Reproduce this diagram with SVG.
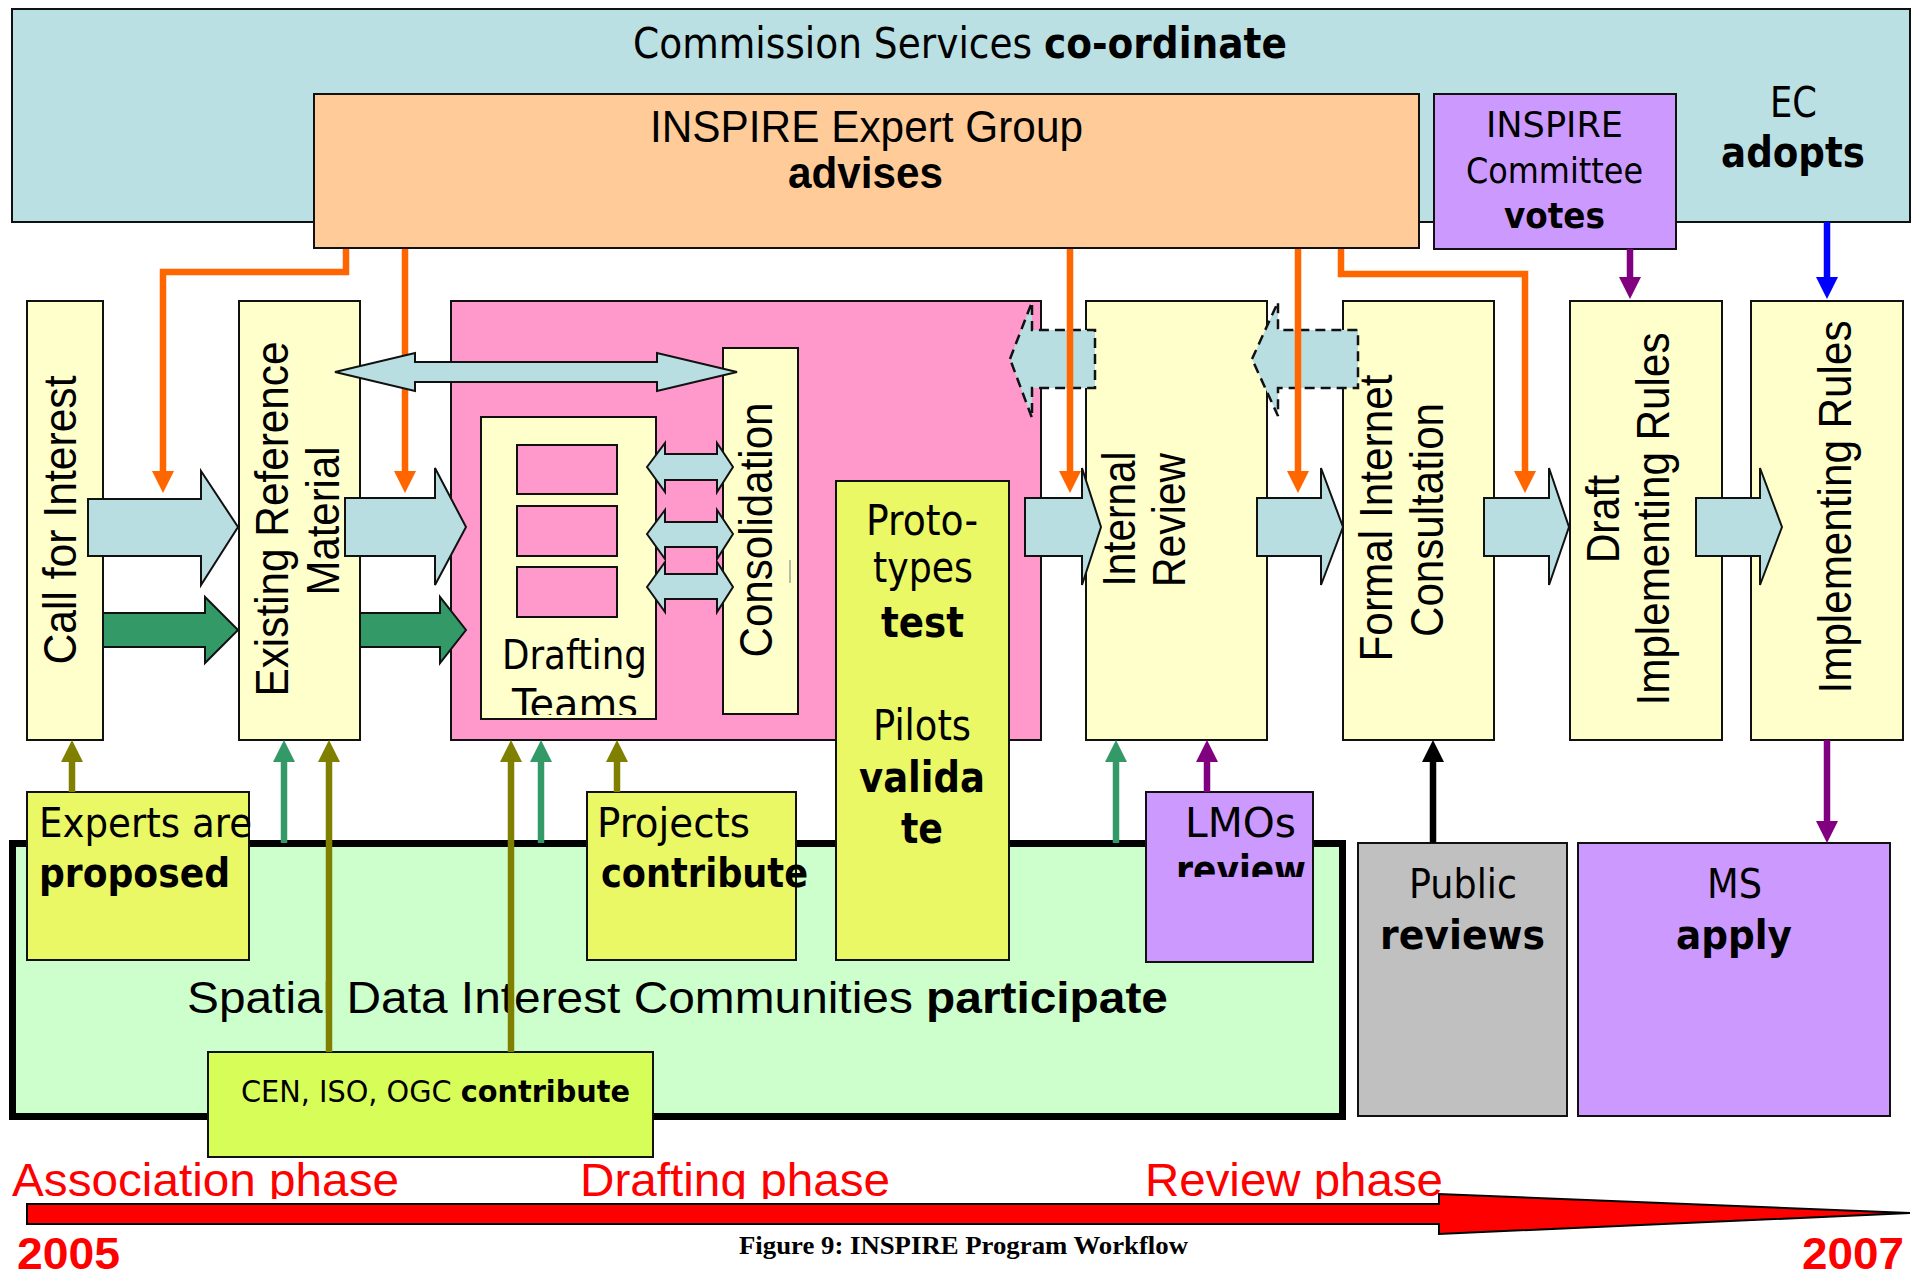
<svg xmlns="http://www.w3.org/2000/svg" width="1916" height="1277" viewBox="0 0 1916 1277">
<style>
.bx{stroke:#111;stroke-width:2}
.t{font-family:"DejaVu Sans",Verdana,sans-serif;fill:#000}
.a{font-family:"Liberation Sans",Arial,sans-serif;fill:#000}
.b{font-weight:bold}
.r{fill:#ff0000}
.ln{fill:none;stroke-width:6.5}
.blk{fill:#b8dee2;stroke:#111;stroke-width:2}
.grn{fill:#339966;stroke:#111;stroke-width:2}
.dsh{fill:#b8dee2;stroke:#111;stroke-width:2.5;stroke-dasharray:10 6}
</style>
<defs>
<marker id="hO" markerUnits="userSpaceOnUse" markerWidth="22" markerHeight="22" viewBox="0 0 22 22" refX="0" refY="11" orient="auto"><path d="M0,0L22,11L0,22z" fill="#ff6600"/></marker>
<marker id="hP" markerUnits="userSpaceOnUse" markerWidth="22" markerHeight="22" viewBox="0 0 22 22" refX="0" refY="11" orient="auto"><path d="M0,0L22,11L0,22z" fill="#800080"/></marker>
<marker id="hB" markerUnits="userSpaceOnUse" markerWidth="22" markerHeight="22" viewBox="0 0 22 22" refX="0" refY="11" orient="auto"><path d="M0,0L22,11L0,22z" fill="#0000ff"/></marker>
<marker id="hL" markerUnits="userSpaceOnUse" markerWidth="22" markerHeight="22" viewBox="0 0 22 22" refX="0" refY="11" orient="auto"><path d="M0,0L22,11L0,22z" fill="#808000"/></marker>
<marker id="hG" markerUnits="userSpaceOnUse" markerWidth="22" markerHeight="22" viewBox="0 0 22 22" refX="0" refY="11" orient="auto"><path d="M0,0L22,11L0,22z" fill="#339966"/></marker>
<marker id="hK" markerUnits="userSpaceOnUse" markerWidth="22" markerHeight="22" viewBox="0 0 22 22" refX="0" refY="11" orient="auto"><path d="M0,0L22,11L0,22z" fill="#000"/></marker>
<clipPath id="cDT"><rect x="481" y="417" width="175" height="298"/></clipPath>
<clipPath id="cLM"><rect x="1146" y="792" width="167" height="85"/></clipPath>
<clipPath id="cPh"><rect x="0" y="1140" width="1916" height="59"/></clipPath>
</defs>
<rect width="1916" height="1277" fill="#fff"/>

<g id="commission-services">
<rect class="bx" x="12" y="9" width="1898" height="213" fill="#bae0e3"/>
<text class="t" x="633" y="58" font-size="42" textLength="654" lengthAdjust="spacingAndGlyphs">Commission Services <tspan class="b">co-ordinate</tspan></text>
</g>
<g id="ec-adopts">
<text class="t" x="1770" y="117" font-size="42" textLength="47" lengthAdjust="spacingAndGlyphs">EC</text>
<text class="t b" x="1721" y="167" font-size="42" textLength="144" lengthAdjust="spacingAndGlyphs">adopts</text>
</g>
<g id="expert-group">
<rect class="bx" x="314" y="94" width="1105" height="154" fill="#ffcc99"/>
<text class="a" x="650" y="142" font-size="44" textLength="433" lengthAdjust="spacingAndGlyphs">INSPIRE Expert Group</text>
<text class="a b" x="788" y="188" font-size="44" textLength="155" lengthAdjust="spacingAndGlyphs">advises</text>
</g>
<g id="inspire-committee">
<rect class="bx" x="1434" y="94" width="242" height="155" fill="#cc99ff"/>
<text class="t" x="1486" y="137" font-size="36" textLength="137" lengthAdjust="spacingAndGlyphs">INSPIRE</text>
<text class="t" x="1466" y="183" font-size="36" textLength="177" lengthAdjust="spacingAndGlyphs">Committee</text>
<text class="t b" x="1504" y="228" font-size="36" textLength="101" lengthAdjust="spacingAndGlyphs">votes</text>
</g>

<g id="call-for-interest">
<rect class="bx" x="27" y="301" width="76" height="439" fill="#ffffcc"/>
<text class="a" transform="translate(76,664.5) rotate(-90)" font-size="46" textLength="289" lengthAdjust="spacingAndGlyphs">Call for Interest</text>
</g>
<g id="existing-reference">
<rect class="bx" x="239" y="301" width="121" height="439" fill="#ffffcc"/>
<text class="a" transform="translate(288,696.5) rotate(-90)" font-size="46" textLength="355" lengthAdjust="spacingAndGlyphs">Existing Reference</text>
<text class="a" transform="translate(339,595.5) rotate(-90)" font-size="46" textLength="149" lengthAdjust="spacingAndGlyphs">Material</text>
</g>
<g id="drafting-area">
<rect class="bx" x="451" y="301" width="590" height="439" fill="#ff99cc"/>
</g>
<g id="drafting-teams">
<rect class="bx" x="481" y="417" width="175" height="302" fill="#ffffcc"/>
<rect class="bx" x="517" y="445" width="100" height="49" fill="#ff99cc"/>
<rect class="bx" x="517" y="506" width="100" height="50" fill="#ff99cc"/>
<rect class="bx" x="517" y="567" width="100" height="50" fill="#ff99cc"/>
<g clip-path="url(#cDT)">
<text class="t" x="502" y="669" font-size="40" textLength="145" lengthAdjust="spacingAndGlyphs">Drafting</text>
<text class="t" x="512" y="718" font-size="40" textLength="126" lengthAdjust="spacingAndGlyphs">Teams</text>
</g>
</g>
<g id="consolidation">
<rect class="bx" x="723" y="348" width="75" height="366" fill="#ffffcc"/>
<text class="a" transform="translate(772,657.5) rotate(-90)" font-size="46" textLength="255" lengthAdjust="spacingAndGlyphs">Consolidation</text>
<line x1="790" y1="560" x2="790" y2="583" stroke="#777" stroke-width="1"/>
</g>
<g id="internal-review">
<rect class="bx" x="1086" y="301" width="181" height="439" fill="#ffffcc"/>
<text class="a" transform="translate(1135,586.5) rotate(-90)" font-size="46" textLength="135" lengthAdjust="spacingAndGlyphs">Internal</text>
<text class="a" transform="translate(1185,587) rotate(-90)" font-size="46" textLength="134" lengthAdjust="spacingAndGlyphs">Review</text>
</g>
<g id="formal-consultation">
<rect class="bx" x="1343" y="301" width="151" height="439" fill="#ffffcc"/>
<text class="a" transform="translate(1392,661.5) rotate(-90)" font-size="46" textLength="287" lengthAdjust="spacingAndGlyphs">Formal Internet</text>
<text class="a" transform="translate(1443,637) rotate(-90)" font-size="46" textLength="234" lengthAdjust="spacingAndGlyphs">Consultation</text>
</g>
<g id="draft-rules">
<rect class="bx" x="1570" y="301" width="152" height="439" fill="#ffffcc"/>
<text class="a" transform="translate(1619,563) rotate(-90)" font-size="46" textLength="88" lengthAdjust="spacingAndGlyphs">Draft</text>
<text class="a" transform="translate(1669,705.5) rotate(-90)" font-size="46" textLength="373" lengthAdjust="spacingAndGlyphs">Implementing Rules</text>
</g>
<g id="implementing-rules">
<rect class="bx" x="1751" y="301" width="152" height="439" fill="#ffffcc"/>
<text class="a" transform="translate(1851,693.5) rotate(-90)" font-size="46" textLength="373" lengthAdjust="spacingAndGlyphs">Implementing Rules</text>
</g>

<g id="sdic">
<rect x="12.5" y="843.5" width="1330" height="273" fill="#ccffcc" stroke="#000" stroke-width="7"/>
<text class="a" x="187" y="1013" font-size="45" textLength="981" lengthAdjust="spacingAndGlyphs">Spatial Data Interest Communities <tspan class="b">participate</tspan></text>
</g>
<g id="prototypes">
<rect class="bx" x="836" y="481" width="173" height="479" fill="#eaf866"/>
<text class="t" x="866" y="535" font-size="42" textLength="112" lengthAdjust="spacingAndGlyphs">Proto-</text>
<text class="t" x="873" y="582" font-size="42" textLength="100" lengthAdjust="spacingAndGlyphs">types</text>
<text class="t b" x="881" y="637" font-size="42" textLength="83" lengthAdjust="spacingAndGlyphs">test</text>
<text class="t" x="873" y="740" font-size="42" textLength="98" lengthAdjust="spacingAndGlyphs">Pilots</text>
<text class="t b" x="859" y="792" font-size="42" textLength="126" lengthAdjust="spacingAndGlyphs">valida</text>
<text class="t b" x="901" y="843" font-size="42" textLength="42" lengthAdjust="spacingAndGlyphs">te</text>
</g>
<g id="experts">
<rect class="bx" x="27" y="792" width="222" height="168" fill="#eaf866"/>
<text class="t" x="39" y="837" font-size="40" textLength="213" lengthAdjust="spacingAndGlyphs">Experts are</text>
<text class="t b" x="39" y="887" font-size="40" textLength="191" lengthAdjust="spacingAndGlyphs">proposed</text>
</g>
<g id="projects">
<rect class="bx" x="587" y="792" width="209" height="168" fill="#eaf866"/>
<text class="t" x="597" y="837" font-size="40" textLength="153" lengthAdjust="spacingAndGlyphs">Projects</text>
<text class="t b" x="601" y="887" font-size="40" textLength="207" lengthAdjust="spacingAndGlyphs">contribute</text>
</g>
<g id="lmos">
<rect class="bx" x="1146" y="792" width="167" height="170" fill="#cc99ff"/>
<text class="t" x="1185" y="837" font-size="40" textLength="111" lengthAdjust="spacingAndGlyphs">LMOs</text>
<g clip-path="url(#cLM)"><text class="t b" x="1176" y="884" font-size="40" textLength="130" lengthAdjust="spacingAndGlyphs">review</text></g>
</g>
<g id="cen-iso-ogc">
<rect class="bx" x="208" y="1052" width="445" height="105" fill="#d7fd58"/>
<text class="t" x="241" y="1102" font-size="30" textLength="389" lengthAdjust="spacingAndGlyphs">CEN, ISO, OGC <tspan class="b">contribute</tspan></text>
</g>
<g id="public">
<rect class="bx" x="1358" y="843" width="209" height="273" fill="#c0c0c0"/>
<text class="t" x="1409" y="898" font-size="41" textLength="108" lengthAdjust="spacingAndGlyphs">Public</text>
<text class="t b" x="1380" y="949" font-size="41" textLength="165" lengthAdjust="spacingAndGlyphs">reviews</text>
</g>
<g id="ms">
<rect class="bx" x="1578" y="843" width="312" height="273" fill="#cc99ff"/>
<text class="t" x="1707" y="898" font-size="41" textLength="55" lengthAdjust="spacingAndGlyphs">MS</text>
<text class="t b" x="1676" y="949" font-size="41" textLength="116" lengthAdjust="spacingAndGlyphs">apply</text>
</g>

<g id="timeline">
<polygon points="27,1204 1439,1204 1439,1194 1910,1213 1439,1234 1439,1224 27,1224" fill="#ff0000" stroke="#000" stroke-width="2"/>
<g clip-path="url(#cPh)">
<text class="a r" x="12" y="1196" font-size="46" textLength="387" lengthAdjust="spacingAndGlyphs">Association phase</text>
<text class="a r" x="580" y="1196" font-size="46" textLength="310" lengthAdjust="spacingAndGlyphs">Drafting phase</text>
<text class="a r" x="1145" y="1196" font-size="46" textLength="298" lengthAdjust="spacingAndGlyphs">Review phase</text>
</g>
<text class="a b r" x="17" y="1269" font-size="45" textLength="103" lengthAdjust="spacingAndGlyphs">2005</text>
<text class="a b r" x="1802" y="1269" font-size="45" textLength="102" lengthAdjust="spacingAndGlyphs">2007</text>
</g>
<g id="caption">
<text x="739" y="1254" font-family="'Liberation Serif','Times New Roman',serif" font-weight="bold" font-size="25" textLength="449" lengthAdjust="spacingAndGlyphs">Figure 9: INSPIRE Program Workflow</text>
</g>

<g id="connectors">
<polygon class="dsh" points="1010,359 1032,302 1032,330 1095,330 1095,388 1032,388 1032,418"/>
<polygon class="dsh" points="1252,359 1278,302 1278,330 1358,330 1358,388 1278,388 1278,416"/>
<path class="ln" stroke="#ff6600" d="M346,249V272H163V471" marker-end="url(#hO)"/>
<path class="ln" stroke="#ff6600" d="M405,249V471" marker-end="url(#hO)"/>
<path class="ln" stroke="#ff6600" d="M1070,249V471" marker-end="url(#hO)"/>
<path class="ln" stroke="#ff6600" d="M1298,249V471" marker-end="url(#hO)"/>
<path class="ln" stroke="#ff6600" d="M1341,249V274H1525V471" marker-end="url(#hO)"/>
<path class="ln" stroke="#800080" d="M1630,249V277" marker-end="url(#hP)"/>
<path class="ln" stroke="#0000ff" stroke-width="8" d="M1827,222V277" marker-end="url(#hB)"/>
<polygon class="blk" points="335,372 415,353 415,362 657,362 657,353 737,372 657,391 657,382 415,382 415,391"/>
<polygon class="blk" points="647,467 665,443 665,454 717,454 717,443 733,467 717,492 717,480 665,480 665,492"/>
<polygon class="blk" points="647,534 665,510 665,522 717,522 717,510 733,534 717,559 717,547 665,547 665,559"/>
<polygon class="blk" points="647,587 665,562 665,574 717,574 717,562 733,587 717,612 717,599 665,599 665,612"/>
<polygon class="blk" points="88,499 201,499 201,471 238,527 201,585 201,556 88,556"/>
<polygon class="blk" points="345,498 435,498 435,468 466,527 435,585 435,556 345,556"/>
<polygon class="blk" points="1025,498 1082,498 1082,468 1101,527 1082,585 1082,556 1025,556"/>
<polygon class="blk" points="1257,498 1321,498 1321,468 1343,527 1321,585 1321,556 1257,556"/>
<polygon class="blk" points="1484,498 1549,498 1549,468 1569,527 1549,585 1549,556 1484,556"/>
<polygon class="blk" points="1696,498 1760,498 1760,468 1782,527 1760,585 1760,556 1696,556"/>
<polygon class="grn" points="103,613 205,613 205,597 238,630 205,663 205,647 103,647"/>
<polygon class="grn" points="360,613 440,613 440,597 466,630 440,663 440,647 360,647"/>
<path class="ln" stroke="#808000" d="M72,792V762" marker-end="url(#hL)"/>
<path class="ln" stroke="#339966" d="M284,843V762" marker-end="url(#hG)"/>
<path class="ln" stroke="#808000" d="M329,1052V762" marker-end="url(#hL)"/>
<path class="ln" stroke="#808000" d="M511,1052V762" marker-end="url(#hL)"/>
<path class="ln" stroke="#339966" d="M541,843V762" marker-end="url(#hG)"/>
<path class="ln" stroke="#808000" d="M617,792V762" marker-end="url(#hL)"/>
<path class="ln" stroke="#339966" d="M1116,843V762" marker-end="url(#hG)"/>
<path class="ln" stroke="#800080" d="M1207,792V762" marker-end="url(#hP)"/>
<path class="ln" stroke="#000" d="M1433,843V762" marker-end="url(#hK)"/>
<path class="ln" stroke="#800080" d="M1827,740V821" marker-end="url(#hP)"/>
</g>
</svg>
